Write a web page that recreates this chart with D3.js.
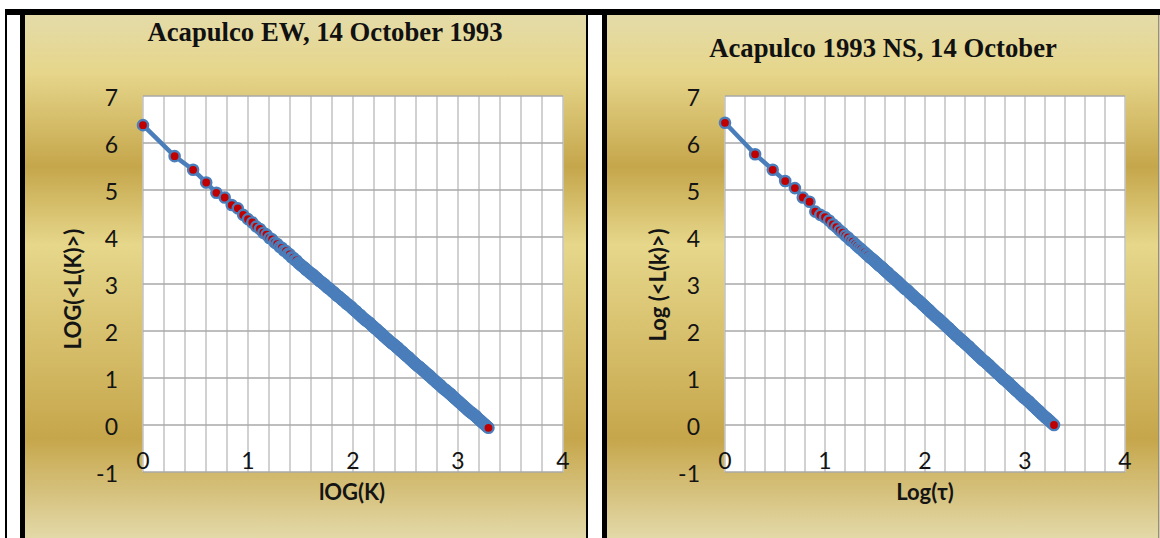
<!DOCTYPE html>
<html>
<head>
<meta charset="utf-8">
<script src="https://cdn.jsdelivr.net/npm/d3@7"></script>
<style>
  html, body { margin: 0; padding: 0; background: #fff; }
  svg { display: block; }
</style>
</head>
<body>
<svg id="chart" width="1160" height="538"></svg>
<script>
// log of the lag K (shared by both records)
var logK = [
  0, 0.301, 0.477, 0.602, 0.699, 0.778, 0.845, 0.903, 0.954, 1.000,
  1.041, 1.079, 1.114, 1.146, 1.176, 1.204, 1.230, 1.255, 1.279, 1.301,
  1.322, 1.342, 1.362, 1.380, 1.398, 1.415, 1.431, 1.447, 1.462, 1.477,
  1.49,
  1.50, 1.51, 1.52, 1.53, 1.54, 1.55, 1.56, 1.57, 1.58, 1.59,
  1.60, 1.61, 1.62, 1.63, 1.64, 1.65, 1.66, 1.67, 1.68, 1.69,
  1.70, 1.71, 1.72, 1.73, 1.74, 1.75, 1.76, 1.77, 1.78, 1.79,
  1.80, 1.81, 1.82, 1.83, 1.84, 1.85, 1.86, 1.87, 1.88, 1.89,
  1.90, 1.91, 1.92, 1.93, 1.94, 1.95, 1.96, 1.97, 1.98, 1.99,
  2.00, 2.01, 2.02, 2.03, 2.04, 2.05, 2.06, 2.07, 2.08, 2.09,
  2.10, 2.11, 2.12, 2.13, 2.14, 2.15, 2.16, 2.17, 2.18, 2.19,
  2.20, 2.21, 2.22, 2.23, 2.24, 2.25, 2.26, 2.27, 2.28, 2.29,
  2.30, 2.31, 2.32, 2.33, 2.34, 2.35, 2.36, 2.37, 2.38, 2.39,
  2.40, 2.41, 2.42, 2.43, 2.44, 2.45, 2.46, 2.47, 2.48, 2.49,
  2.50, 2.51, 2.52, 2.53, 2.54, 2.55, 2.56, 2.57, 2.58, 2.59,
  2.60, 2.61, 2.62, 2.63, 2.64, 2.65, 2.66, 2.67, 2.68, 2.69,
  2.70, 2.71, 2.72, 2.73, 2.74, 2.75, 2.76, 2.77, 2.78, 2.79,
  2.80, 2.81, 2.82, 2.83, 2.84, 2.85, 2.86, 2.87, 2.88, 2.89,
  2.90, 2.91, 2.92, 2.93, 2.94, 2.95, 2.96, 2.97, 2.98, 2.99,
  3.00, 3.01, 3.02, 3.03, 3.04, 3.05, 3.06, 3.07, 3.08, 3.09,
  3.10, 3.11, 3.12, 3.13, 3.14, 3.15, 3.16, 3.17, 3.18, 3.19,
  3.20, 3.21, 3.22, 3.23, 3.24, 3.25, 3.26, 3.27, 3.28, 3.29
];

// LOG(<L(K)>), EW component
var ewLogL = [
  6.38, 5.72, 5.43, 5.16, 4.94, 4.84, 4.68, 4.61, 4.47, 4.38,
  4.31, 4.22, 4.17, 4.09, 4.05, 3.98, 3.95, 3.88, 3.85, 3.79,
  3.77, 3.71, 3.70, 3.64, 3.63, 3.57, 3.56, 3.51, 3.50, 3.45,
  3.43,
  3.41, 3.39, 3.37, 3.36, 3.34, 3.31, 3.30, 3.28, 3.26, 3.24,
  3.22, 3.20, 3.20, 3.17, 3.15, 3.13, 3.12, 3.09, 3.07, 3.05,
  3.04, 3.02, 3.00, 2.99, 2.96, 2.94, 2.92, 2.91, 2.89, 2.87,
  2.85, 2.83, 2.82, 2.79, 2.77, 2.75, 2.74, 2.72, 2.70, 2.68,
  2.66, 2.64, 2.63, 2.60, 2.58, 2.57, 2.55, 2.53, 2.52, 2.49,
  2.47, 2.45, 2.43, 2.42, 2.39, 2.37, 2.35, 2.34, 2.31, 2.29,
  2.27, 2.25, 2.23, 2.22, 2.20, 2.18, 2.17, 2.14, 2.12, 2.10,
  2.08, 2.06, 2.04, 2.03, 2.00, 1.98, 1.96, 1.95, 1.92, 1.90,
  1.88, 1.86, 1.84, 1.82, 1.80, 1.78, 1.76, 1.74, 1.73, 1.71,
  1.69, 1.67, 1.65, 1.64, 1.61, 1.59, 1.57, 1.56, 1.53, 1.51,
  1.49, 1.47, 1.45, 1.44, 1.41, 1.39, 1.37, 1.35, 1.33, 1.31,
  1.29, 1.27, 1.25, 1.24, 1.22, 1.20, 1.18, 1.16, 1.14, 1.12,
  1.10, 1.08, 1.06, 1.05, 1.02, 1.00, 0.98, 0.96, 0.94, 0.92,
  0.90, 0.88, 0.86, 0.85, 0.82, 0.80, 0.78, 0.76, 0.75, 0.73,
  0.71, 0.69, 0.67, 0.66, 0.63, 0.61, 0.59, 0.57, 0.55, 0.53,
  0.51, 0.49, 0.47, 0.45, 0.43, 0.41, 0.39, 0.37, 0.35, 0.33,
  0.31, 0.29, 0.27, 0.26, 0.24, 0.22, 0.20, 0.19, 0.16, 0.14,
  0.12, 0.10, 0.08, 0.06, 0.04, 0.02, 0.00, -0.02, -0.04, -0.06
];

// Log(<L(k)>), NS component
var nsLogL = [
  6.43, 5.76, 5.43, 5.19, 5.04, 4.84, 4.75, 4.54, 4.47, 4.42,
  4.35, 4.27, 4.21, 4.14, 4.09, 4.03, 3.99, 3.93, 3.90, 3.85,
  3.81, 3.77, 3.74, 3.70, 3.67, 3.63, 3.61, 3.57, 3.55, 3.52,
  3.50,
  3.48, 3.46, 3.44, 3.42, 3.40, 3.38, 3.37, 3.35, 3.33, 3.31,
  3.29, 3.27, 3.25, 3.24, 3.21, 3.19, 3.17, 3.15, 3.14, 3.12,
  3.10, 3.08, 3.06, 3.05, 3.02, 3.00, 2.98, 2.96, 2.94, 2.92,
  2.90, 2.89, 2.87, 2.86, 2.83, 2.81, 2.79, 2.77, 2.75, 2.73,
  2.71, 2.69, 2.67, 2.66, 2.64, 2.62, 2.60, 2.58, 2.56, 2.54,
  2.52, 2.50, 2.48, 2.46, 2.45, 2.42, 2.40, 2.38, 2.36, 2.34,
  2.32, 2.30, 2.28, 2.27, 2.25, 2.23, 2.21, 2.19, 2.17, 2.15,
  2.13, 2.11, 2.09, 2.07, 2.06, 2.03, 2.01, 1.99, 1.97, 1.95,
  1.93, 1.91, 1.89, 1.87, 1.86, 1.83, 1.81, 1.80, 1.78, 1.76,
  1.74, 1.72, 1.70, 1.68, 1.67, 1.64, 1.62, 1.60, 1.58, 1.56,
  1.54, 1.52, 1.50, 1.48, 1.47, 1.44, 1.42, 1.40, 1.38, 1.36,
  1.35, 1.33, 1.31, 1.29, 1.28, 1.25, 1.23, 1.21, 1.19, 1.17,
  1.15, 1.13, 1.11, 1.09, 1.08, 1.05, 1.03, 1.01, 0.99, 0.97,
  0.96, 0.94, 0.92, 0.90, 0.89, 0.86, 0.84, 0.82, 0.80, 0.78,
  0.76, 0.74, 0.72, 0.70, 0.69, 0.66, 0.64, 0.62, 0.60, 0.58,
  0.57, 0.55, 0.53, 0.51, 0.50, 0.47, 0.45, 0.43, 0.41, 0.39,
  0.37, 0.35, 0.33, 0.31, 0.30, 0.27, 0.25, 0.23, 0.21, 0.19,
  0.17, 0.15, 0.14, 0.12, 0.10, 0.08, 0.06, 0.04, 0.02, 0.00
];

var xTicks = [0, 1, 2, 3, 4];
var yTicks = [-1, 0, 1, 2, 3, 4, 5, 6, 7];
var xGridStep = 0.2;
var chartTitles = ["Acapulco EW, 14 October 1993", "Acapulco 1993 NS, 14 October"];
var xTitles = ["lOG(K)", "Log(\u03c4)"];
var yTitles = ["LOG(<L(K)>)", "Log (<L(k)>)"];

var blue = "#4a7ebb", red = "#c00000";
var sans = "Lato, 'Open Sans', sans-serif";
var serif = "'Liberation Serif', 'Times New Roman', serif";

var svg = d3.select("#chart");

var defs = svg.append("defs");
var grad = defs.append("linearGradient")
  .attr("id", "gold")
  .attr("x1", 0).attr("y1", 0).attr("x2", 0).attr("y2", 1);
[[0, "#e4dba8"], [0.11, "#e6d68b"], [0.29, "#c5a64b"], [0.44, "#e6d78b"],
 [0.81, "#c6a64b"], [1, "#e3d9a8"]].forEach(function(s) {
  grad.append("stop").attr("offset", s[0]).attr("stop-color", s[1]);
});

// table frame
svg.append("rect").attr("x", 5).attr("y", 9).attr("width", 1155).attr("height", 6).attr("fill", "#000");
svg.append("rect").attr("x", 5).attr("y", 9).attr("width", 2).attr("height", 529).attr("fill", "#000");
svg.append("rect").attr("x", 20).attr("y", 9).attr("width", 5).attr("height", 529).attr("fill", "#000");
svg.append("rect").attr("x", 586).attr("y", 9).attr("width", 2).attr("height", 529).attr("fill", "#000");
svg.append("rect").attr("x", 602).attr("y", 9).attr("width", 5).attr("height", 529).attr("fill", "#000");

var panels = [
  { left: 25, right: 586, plotL: 143, plotR: 563, titleX: 325, titleY: 41,
    yTitleX: 72, yTitleY: 289, xTitleX: 352, values: ewLogL },
  { left: 607, right: 1158, plotL: 725, plotR: 1125, titleX: 883, titleY: 57,
    yTitleX: 657, yTitleY: 285, xTitleX: 925, values: nsLogL }
];

panels.forEach(function(p, idx) {
  var g = svg.append("g");

  g.append("rect")
    .attr("x", p.left).attr("y", 15)
    .attr("width", p.right - p.left).attr("height", 523)
    .attr("fill", "url(#gold)");

  var x = d3.scaleLinear().domain([0, 4]).range([p.plotL, p.plotR]);
  var y = d3.scaleLinear().domain([-1, 7]).range([472, 96]);

  g.append("rect")
    .attr("x", x(0)).attr("y", y(7))
    .attr("width", x(4) - x(0)).attr("height", y(-1) - y(7))
    .attr("fill", "#fff");

  var vGrid = d3.range(0, 4 + 1e-9, xGridStep);
  g.selectAll("line.v").data(vGrid).enter().append("line")
    .attr("x1", function(d) { return x(d); }).attr("x2", function(d) { return x(d); })
    .attr("y1", y(7)).attr("y2", y(-1))
    .attr("stroke", "#c6c6c6").attr("stroke-width", 1.6);

  g.selectAll("line.h").data(yTicks).enter().append("line")
    .attr("x1", x(0)).attr("x2", x(4))
    .attr("y1", function(d) { return y(d); }).attr("y2", function(d) { return y(d); })
    .attr("stroke", "#a8a8a8").attr("stroke-width", 1.6);

  // tick labels
  g.selectAll("text.yt").data(yTicks).enter().append("text")
    .attr("x", x(0) - 25).attr("y", function(d) { return y(d) + 1; })
    .attr("text-anchor", "end").attr("dominant-baseline", "central")
    .attr("font-family", sans).attr("font-size", 23).attr("fill", "#141414")
    .text(function(d) { return d; });

  g.selectAll("text.xt").data(xTicks).enter().append("text")
    .attr("x", function(d) { return x(d); }).attr("y", y(-1) - 12)
    .attr("text-anchor", "middle").attr("dominant-baseline", "central")
    .attr("font-family", sans).attr("font-size", 23).attr("fill", "#141414")
    .text(function(d) { return d; });

  // series
  var pts = logK.map(function(k, i) { return [k, p.values[i]]; });
  var line = d3.line().x(function(d) { return x(d[0]); }).y(function(d) { return y(d[1]); });
  g.append("path").datum(pts)
    .attr("d", line).attr("fill", "none")
    .attr("stroke", blue).attr("stroke-width", 4.5).attr("stroke-linejoin", "round");

  g.selectAll("circle").data(pts).enter().append("circle")
    .attr("cx", function(d) { return x(d[0]); })
    .attr("cy", function(d) { return y(d[1]); })
    .attr("r", 5.1)
    .attr("fill", red).attr("stroke", blue).attr("stroke-width", 2.4);

  // titles
  g.append("text")
    .attr("x", p.titleX).attr("y", p.titleY)
    .attr("text-anchor", "middle")
    .attr("font-family", serif).attr("font-weight", "bold").attr("font-size", 26.7)
    .attr("fill", "#111")
    .text(chartTitles[idx]);

  g.append("text")
    .attr("x", p.xTitleX).attr("y", 500)
    .attr("text-anchor", "middle")
    .attr("font-family", sans).attr("font-weight", "bold").attr("font-size", 22)
    .attr("fill", "#141414")
    .text(xTitles[idx]);

  g.append("text")
    .attr("transform", "translate(" + p.yTitleX + "," + p.yTitleY + ") rotate(-90)")
    .attr("text-anchor", "middle").attr("dominant-baseline", "central")
    .attr("font-family", sans).attr("font-weight", "bold").attr("font-size", 22)
    .attr("fill", "#141414")
    .text(yTitles[idx]);
});

// thin grey edge on the right panel
svg.append("rect").attr("x", 1158).attr("y", 15).attr("width", 1.5).attr("height", 523).attr("fill", "#9a9070");
</script>
</body>
</html>
